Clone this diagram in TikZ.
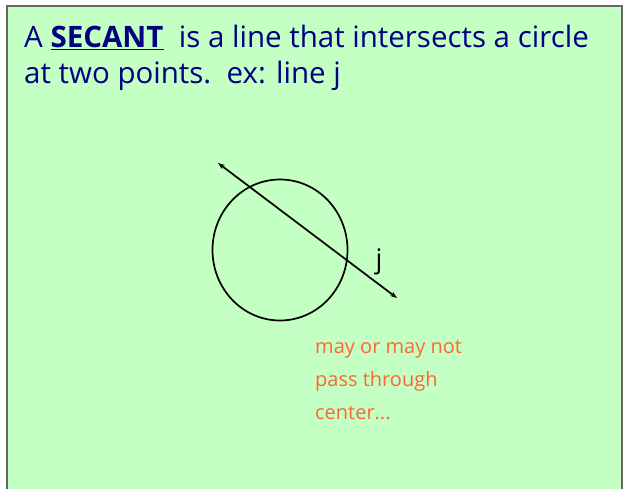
\documentclass[tikz,border=0pt]{standalone}
\usepackage{fontspec}
\setmainfont{Open Sans}
\usetikzlibrary{arrows.meta,positioning,shapes.geometric}

\definecolor{slidegreen}{HTML}{C4FFC4}
\definecolor{titleblue}{HTML}{000080}
\definecolor{noteorange}{HTML}{FF6633}

\begin{document}
\begin{tikzpicture}[x=1pt, y=-1pt,
        title/.style={anchor=base west, align=left, inner sep=0pt, text=titleblue, font=\fontsize{29.5}{37}\selectfont},
        note/.style={anchor=base west, align=left, inner sep=0pt, text=noteorange, font=\fontsize{20}{33}\selectfont},
        secant/.style={line width=1.7pt, {Stealth[length=7pt,width=5pt]}-{Stealth[length=7pt,width=5pt]}}
    ]
    \useasboundingbox (0,0) rectangle (623,489);
    \fill[slidegreen] (7,6) rectangle (622,489);
    \draw[line width=1.5pt, black!60] (7,489) -- (7,6) -- (622,6) -- (622,489);

    \node[title] (def) at (24,48) {A \underline{\textbf{SECANT}}\ \ is a line that intersects a circle};
    \node[title] (def2) at (24,84) {at two points.\ \ ex: line j};

    \node[draw, line width=1.7pt, ellipse, minimum width=135pt, minimum height=141pt, inner sep=0pt] (circ) at (280,250) {};
    \coordinate (p) at (218,163);
    \coordinate (q) at (397,298);
    \draw[secant] (p) -- (q);
    \node[font=\fontsize{27}{27}\selectfont] (j) at (379,262) {j};

    \node[note] (remark) at (315,353) {may or may not};
    \node[note] (remark2) at (315,386) {pass through};
    \node[note] (remark3) at (315,419) {center...};
\end{tikzpicture}
\end{document}
